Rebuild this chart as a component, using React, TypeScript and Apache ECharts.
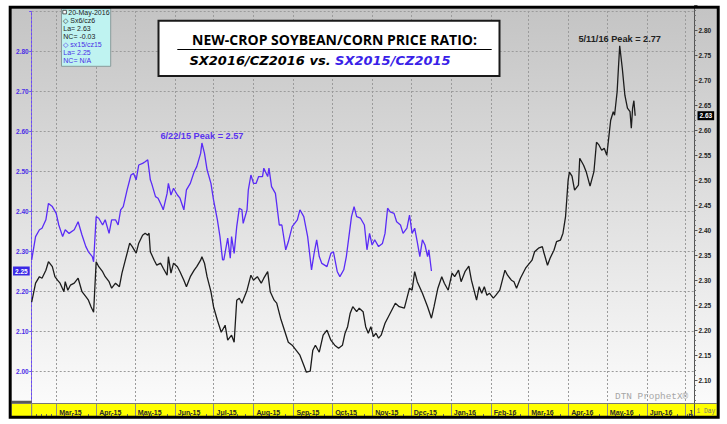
import React, { useEffect, useRef } from "react";
import * as echarts from "echarts";

// ---------- data ----------
const xStart = "2015-02-10";
const xEnd = "2016-07-08";

const monthTicks = [
  "2015-03-01", "2015-04-01", "2015-05-01", "2015-06-01", "2015-07-01", "2015-08-01",
  "2015-09-01", "2015-10-01", "2015-11-01", "2015-12-01", "2016-01-01", "2016-02-01",
  "2016-03-01", "2016-04-01", "2016-05-01", "2016-06-01", "2016-07-01",
];
const monthLabels = [
  "Mar-15", "Apr-15", "May-15", "Jun-15", "Jul-15", "Aug-15", "Sep-15", "Oct-15",
  "Nov-15", "Dec-15", "Jan-16", "Feb-16", "Mar-16", "Apr-16", "May-16", "Jun-16", "J",
];

// SX2016/CZ2016 ratio (black line, right axis)
const blackDates = [
  "2015-02-10", "2015-02-13", "2015-02-16", "2015-02-18", "2015-02-21", "2015-02-23", "2015-02-26", "2015-02-28",
  "2015-03-02", "2015-03-04", "2015-03-07", "2015-03-08", "2015-03-10", "2015-03-12", "2015-03-15", "2015-03-18",
  "2015-03-21", "2015-03-24", "2015-03-26", "2015-03-28", "2015-03-30", "2015-04-01", "2015-04-03", "2015-04-06",
  "2015-04-08", "2015-04-11", "2015-04-13", "2015-04-16", "2015-04-19", "2015-04-21", "2015-04-24", "2015-04-27",
  "2015-04-29", "2015-05-02", "2015-05-04", "2015-05-07", "2015-05-09", "2015-05-11", "2015-05-12", "2015-05-13",
  "2015-05-16", "2015-05-18", "2015-05-21", "2015-05-23", "2015-05-26", "2015-05-27", "2015-05-29", "2015-05-31",
  "2015-06-03", "2015-06-05", "2015-06-08", "2015-06-10", "2015-06-13", "2015-06-16", "2015-06-18", "2015-06-21",
  "2015-06-22", "2015-06-24", "2015-06-26", "2015-06-29", "2015-07-01", "2015-07-04", "2015-07-07", "2015-07-10",
  "2015-07-12", "2015-07-15", "2015-07-17", "2015-07-19", "2015-07-21", "2015-07-23", "2015-07-27", "2015-07-30",
  "2015-08-01", "2015-08-04", "2015-08-07", "2015-08-09", "2015-08-12", "2015-08-14", "2015-08-17", "2015-08-19",
  "2015-08-22", "2015-08-25", "2015-08-28", "2015-08-31", "2015-09-03", "2015-09-06", "2015-09-09", "2015-09-11",
  "2015-09-14", "2015-09-16", "2015-09-18", "2015-09-21", "2015-09-24", "2015-09-27", "2015-09-30", "2015-10-03",
  "2015-10-06", "2015-10-09", "2015-10-11", "2015-10-13", "2015-10-15", "2015-10-17", "2015-10-20", "2015-10-22",
  "2015-10-25", "2015-10-27", "2015-10-29", "2015-10-31", "2015-11-02", "2015-11-04", "2015-11-06", "2015-11-08",
  "2015-11-11", "2015-11-15", "2015-11-19", "2015-11-22", "2015-11-26", "2015-11-30", "2015-12-02", "2015-12-04",
  "2015-12-06", "2015-12-10", "2015-12-14", "2015-12-17", "2015-12-19", "2015-12-22", "2015-12-25", "2015-12-27",
  "2015-12-30", "2016-01-02", "2016-01-04", "2016-01-07", "2016-01-09", "2016-01-12", "2016-01-15", "2016-01-17",
  "2016-01-19", "2016-01-21", "2016-01-23", "2016-01-25", "2016-01-27", "2016-01-29", "2016-01-31", "2016-02-03",
  "2016-02-05", "2016-02-08", "2016-02-10", "2016-02-12", "2016-02-14", "2016-02-17", "2016-02-19", "2016-02-21",
  "2016-02-24", "2016-02-28", "2016-03-04", "2016-03-06", "2016-03-09", "2016-03-12", "2016-03-13", "2016-03-16",
  "2016-03-18", "2016-03-21", "2016-03-23", "2016-03-26", "2016-03-28", "2016-03-30", "2016-04-01", "2016-04-02",
  "2016-04-04", "2016-04-06", "2016-04-09", "2016-04-10", "2016-04-13", "2016-04-15", "2016-04-18", "2016-04-21",
  "2016-04-23", "2016-04-25", "2016-04-27", "2016-04-29", "2016-05-01", "2016-05-03", "2016-05-04", "2016-05-06",
  "2016-05-07", "2016-05-09", "2016-05-10", "2016-05-11", "2016-05-13", "2016-05-15", "2016-05-17", "2016-05-19",
  "2016-05-20", "2016-05-21", "2016-05-22", "2016-05-23",
];
const blackValues = [
  2.257, 2.295, 2.308, 2.305, 2.321, 2.338, 2.328, 2.308,
  2.301, 2.295, 2.278, 2.298, 2.281, 2.291, 2.295, 2.305,
  2.278, 2.268, 2.261, 2.248, 2.237, 2.338, 2.328, 2.318,
  2.308, 2.298, 2.285, 2.295, 2.288, 2.315, 2.345, 2.375,
  2.368, 2.355, 2.375, 2.391, 2.395, 2.391, 2.395, 2.358,
  2.341, 2.331, 2.335, 2.325, 2.311, 2.348, 2.315, 2.335,
  2.328, 2.318, 2.301, 2.288, 2.308, 2.321, 2.328, 2.341,
  2.348, 2.335, 2.308, 2.278, 2.248, 2.221, 2.197, 2.211,
  2.181, 2.191, 2.177, 2.261, 2.265, 2.255, 2.281, 2.311,
  2.301, 2.308, 2.295, 2.305, 2.318, 2.278, 2.261, 2.255,
  2.225, 2.201, 2.177, 2.171, 2.161, 2.151, 2.131, 2.117,
  2.119, 2.161, 2.171, 2.157, 2.191, 2.201, 2.181, 2.171,
  2.165, 2.171, 2.195, 2.208, 2.235, 2.248, 2.238, 2.245,
  2.238, 2.208, 2.195, 2.208, 2.188, 2.195, 2.185, 2.191,
  2.215, 2.235, 2.255, 2.248, 2.245, 2.285, 2.281, 2.318,
  2.298, 2.275, 2.248, 2.225, 2.248, 2.285, 2.308, 2.295,
  2.281, 2.315, 2.308, 2.321, 2.298, 2.318, 2.329, 2.301,
  2.281, 2.261, 2.288, 2.275, 2.288, 2.271, 2.275, 2.265,
  2.271, 2.281, 2.301, 2.321, 2.311, 2.301, 2.298, 2.285,
  2.305, 2.325, 2.341, 2.358, 2.365, 2.368, 2.358, 2.331,
  2.345, 2.361, 2.378, 2.381, 2.395, 2.428, 2.501, 2.517,
  2.509, 2.481, 2.491, 2.545, 2.531, 2.518, 2.489, 2.518,
  2.577, 2.571, 2.561, 2.565, 2.551, 2.598, 2.621, 2.638,
  2.631, 2.678, 2.725, 2.77, 2.725, 2.671, 2.645, 2.638,
  2.605, 2.645, 2.66, 2.63,
];

// SX2015/CZ2015 ratio (blue line, left axis)
const blueDates = [
  "2015-02-10", "2015-02-13", "2015-02-16", "2015-02-18", "2015-02-21", "2015-02-23", "2015-02-26", "2015-03-01",
  "2015-03-03", "2015-03-06", "2015-03-08", "2015-03-11", "2015-03-15", "2015-03-18", "2015-03-21", "2015-03-24",
  "2015-03-26", "2015-03-29", "2015-03-30", "2015-04-01", "2015-04-03", "2015-04-06", "2015-04-08", "2015-04-11",
  "2015-04-13", "2015-04-16", "2015-04-18", "2015-04-20", "2015-04-22", "2015-04-25", "2015-04-28", "2015-04-30",
  "2015-05-02", "2015-05-04", "2015-05-07", "2015-05-09", "2015-05-11", "2015-05-13", "2015-05-14", "2015-05-17",
  "2015-05-19", "2015-05-22", "2015-05-23", "2015-05-26", "2015-05-27", "2015-05-29", "2015-05-31", "2015-06-03",
  "2015-06-05", "2015-06-08", "2015-06-10", "2015-06-13", "2015-06-16", "2015-06-18", "2015-06-21", "2015-06-22",
  "2015-06-24", "2015-06-26", "2015-06-29", "2015-07-01", "2015-07-04", "2015-07-06", "2015-07-08", "2015-07-09",
  "2015-07-12", "2015-07-14", "2015-07-15", "2015-07-17", "2015-07-19", "2015-07-21", "2015-07-23", "2015-07-24",
  "2015-07-27", "2015-07-28", "2015-07-30", "2015-08-01", "2015-08-03", "2015-08-05", "2015-08-08", "2015-08-09",
  "2015-08-12", "2015-08-13", "2015-08-15", "2015-08-18", "2015-08-21", "2015-08-23", "2015-08-26", "2015-08-28",
  "2015-08-31", "2015-09-04", "2015-09-06", "2015-09-09", "2015-09-12", "2015-09-15", "2015-09-17", "2015-09-19",
  "2015-09-21", "2015-09-23", "2015-09-27", "2015-09-30", "2015-10-02", "2015-10-05", "2015-10-07", "2015-10-10",
  "2015-10-12", "2015-10-14", "2015-10-16", "2015-10-18", "2015-10-20", "2015-10-23", "2015-10-26", "2015-10-28",
  "2015-10-30", "2015-11-01", "2015-11-03", "2015-11-06", "2015-11-09", "2015-11-11", "2015-11-13", "2015-11-15",
  "2015-11-18", "2015-11-20", "2015-11-23", "2015-11-25", "2015-11-28", "2015-11-30", "2015-12-02", "2015-12-04",
  "2015-12-06", "2015-12-08", "2015-12-10", "2015-12-12", "2015-12-14", "2015-12-15", "2015-12-17",
];
const blueValues = [
  2.278, 2.336, 2.353, 2.357, 2.378, 2.419, 2.411, 2.394,
  2.365, 2.336, 2.353, 2.344, 2.353, 2.373, 2.34, 2.311,
  2.298, 2.286, 2.273, 2.386, 2.382, 2.365, 2.378, 2.344,
  2.378, 2.378, 2.365, 2.403, 2.411, 2.453, 2.49, 2.494,
  2.478, 2.515, 2.519, 2.523, 2.528, 2.478, 2.469, 2.436,
  2.432, 2.411, 2.403, 2.444, 2.469, 2.44, 2.457, 2.44,
  2.432, 2.403, 2.453, 2.469, 2.498, 2.511, 2.544, 2.57,
  2.544, 2.503, 2.469, 2.428, 2.378, 2.336, 2.278, 2.278,
  2.332, 2.282, 2.336, 2.294, 2.361, 2.407, 2.403, 2.369,
  2.403, 2.453, 2.49, 2.469, 2.469, 2.486, 2.486, 2.507,
  2.486, 2.507, 2.461, 2.444, 2.365, 2.365, 2.303, 2.323,
  2.361, 2.378, 2.403, 2.386, 2.336, 2.253, 2.294, 2.328,
  2.286, 2.269, 2.261, 2.294, 2.298, 2.248, 2.236, 2.253,
  2.286, 2.336, 2.386, 2.411, 2.386, 2.382, 2.365, 2.303,
  2.344, 2.315, 2.328, 2.311, 2.319, 2.344, 2.407, 2.398,
  2.394, 2.373, 2.365, 2.344, 2.357, 2.39, 2.344, 2.357,
  2.323, 2.286, 2.328, 2.315, 2.286, 2.303, 2.25,
];

const legendDate = "20-May-2016";
const blackName = "Sx6/cz6";
const blueName = "sx15/cz15";
const blueChange = "N/A";
const titleLine1 = "NEW-CROP SOYBEAN/CORN PRICE RATIO:";
const titleLine2a = "SX2016/CZ2016 vs. ";
const titleLine2b = "SX2015/CZ2015";
const watermark = "DTN ProphetX\u00AE";
const periodLabel = "1 Day";

// ---------- helpers ----------
const ts = (s: string) => {
  const [y, m, d] = s.split("-").map(Number);
  return new Date(y, m - 1, d).getTime();
};
const peakOf = (dates: string[], vals: number[]) => {
  let k = 0;
  vals.forEach((v, i) => {
    if (v > vals[k]) k = i;
  });
  const [y, m, d] = dates[k].split("-");
  return {
    t: ts(dates[k]),
    v: vals[k],
    label: `${+m}/${+d}/${y.slice(2)} Peak = ${vals[k].toFixed(2)}`,
  };
};

const DAY = 86400000;
const BLUE = "#5a2cf6";
const BLUE_TXT = "#4a2ee6";
const BLACK = "#1c1c1c";
const SANS = "'Liberation Sans', Arial, sans-serif";

function makeOption(withMinor: boolean) {
  const tickTs = monthTicks.map(ts);
  const xMin = ts(xStart);
  const xMax = ts(xEnd);
  const blackData = blackDates.map((d, i) => [ts(d), blackValues[i]]);
  const blueData = blueDates.map((d, i) => [ts(d), blueValues[i]]);
  const blackLast = blackValues[blackValues.length - 1];
  const blackPrev = blackValues[blackValues.length - 2];
  const blueLast = blueValues[blueValues.length - 1];
  const blackPeak = peakOf(blackDates, blackValues);
  const bluePeak = peakOf(blueDates, blueValues);

  const monthFmt = (v: number) => {
    const i = tickTs.findIndex((t) => Math.abs(t - v) < DAY / 2);
    return i >= 0 ? monthLabels[i] : "";
  };

  const gridC = "#9b9b9b";
  const L = 31.7;
  const R = 727 - 694.5;
  const monthly = { minInterval: 28 * DAY, maxInterval: 31 * DAY, splitNumber: 18 };

  const txt = (x: number, y: number, text: string, fill: string, size: number) => ({
    type: "text",
    x,
    y,
    z: 21,
    style: { text, fill, fontSize: size, fontFamily: SANS, align: "left", verticalAlign: "middle" },
  });

  const graphic: any[] = [
    {
      type: "rect",
      z: -10,
      shape: { x: 11.7, y: 8.7, width: 705, height: 395 },
      style: {
        fill: new echarts.graphic.LinearGradient(0, 0, 0, 1, [
          { offset: 0, color: "#c4c4c4" },
          { offset: 1, color: "#fbfbfb" },
        ]),
      },
    },
    { type: "rect", z: 1, shape: { x: 11.7, y: 400.7, width: 20, height: 2.8 }, style: { fill: "#5a5a5a" } },
    { type: "rect", z: 4, shape: { x: 11.7, y: 403.5, width: 705, height: 13 }, style: { fill: "#ffff00" } },
    { type: "line", z: 11, shape: { x1: 11.7, y1: 403.5, x2: 716.7, y2: 403.5 }, style: { stroke: "#777", lineWidth: 1 } },
    { type: "line", z: 11, shape: { x1: 31.7, y1: 403.5, x2: 31.7, y2: 416.5 }, style: { stroke: "#8a8a8a", lineWidth: 1 } },
    { type: "line", z: 11, shape: { x1: 694.5, y1: 403.5, x2: 694.5, y2: 416.5 }, style: { stroke: "#555", lineWidth: 1 } },
    {
      type: "text", z: 11, x: 696.5, y: 411.5,
      style: { text: periodLabel, fill: "#777", fontSize: 6.3, fontFamily: "'Liberation Mono', monospace", align: "left", verticalAlign: "middle" },
    },
    {
      type: "text", z: 1, x: 615, y: 396,
      style: { text: watermark, fill: "#a6a6a6", fontSize: 9.4, fontFamily: "'Liberation Mono', monospace", align: "left", verticalAlign: "middle" },
    },
    { type: "rect", z: 20, shape: { x: 158.5, y: 20.7, width: 341, height: 55.3 }, style: { fill: "#fff", stroke: "#1a1a1a", lineWidth: 2 } },
    {
      type: "text", z: 21, x: 334.5, y: 39,
      style: { text: titleLine1, fill: "#000", fontSize: 14, fontWeight: "bold", fontFamily: "'Open Sans', sans-serif", align: "center", verticalAlign: "middle" },
    },
    { type: "line", z: 21, shape: { x1: 177.3, y1: 49.5, x2: 491.7, y2: 49.5 }, style: { stroke: "#000", lineWidth: 1.2 } },
    {
      type: "text", z: 21, x: 320, y: 60.8,
      style: {
        text: `{a|${titleLine2a}}{b|${titleLine2b}}`,
        align: "center",
        verticalAlign: "middle",
        rich: {
          a: { fill: "#000", fontSize: 13, fontWeight: "bold", fontStyle: "italic", fontFamily: "'DejaVu Sans', sans-serif" },
          b: { fill: "#3a1fe8", fontSize: 13, fontWeight: "bold", fontStyle: "italic", fontFamily: "'DejaVu Sans', sans-serif" },
        },
      },
    },
    { type: "rect", z: 20, shape: { x: 61.5, y: 8.7, width: 49.2, height: 57.6 }, style: { fill: "#bff3f1", stroke: "#8a9a9a", lineWidth: 1 } },
    { type: "rect", z: 21, shape: { x: 62.8, y: 10.3, width: 3.6, height: 3.6 }, style: { fill: "#fff", stroke: "#333", lineWidth: 0.8 } },
    txt(68.3, 12.3, legendDate, "#222", 7),
    txt(63.3, 20.5, `\u25C7 ${blackName}`, "#222", 7),
    txt(63.3, 28.4, `La= ${blackLast.toFixed(2)}`, "#222", 7),
    txt(63.3, 36.3, `NC= ${(blackLast - blackPrev).toFixed(2)}`, "#222", 7),
    txt(63.3, 44.3, `\u25C7 ${blueName}`, BLUE_TXT, 7),
    txt(63.3, 52.5, `La= ${blueLast.toFixed(2)}`, BLUE_TXT, 7),
    txt(63.3, 60.7, `NC= ${blueChange}`, BLUE_TXT, 7),
    { type: "rect", z: 30, shape: { x: 10.2, y: 7.2, width: 708, height: 410 }, style: { fill: "none", stroke: "#000", lineWidth: 3 } },
  ];

  return {
    animation: false,
    grid: [
      { left: L, right: R, top: 11, height: 400 },
      { left: L, right: R, top: 5.7, height: 400 },
      { left: L, right: R, top: 403.5, height: 13 },
    ],
    xAxis: [
      {
        type: "time", gridIndex: 0, min: xMin, max: xMax, ...monthly,
        axisLine: { show: false },
        axisLabel: { show: false },
        axisTick: { show: false },
        splitLine: { show: true, lineStyle: { color: gridC, width: 1, type: [2, 2] } },
      },
      {
        type: "time", gridIndex: 1, min: xMin, max: xMax,
        axisLine: { show: false }, axisLabel: { show: false }, axisTick: { show: false }, splitLine: { show: false },
      },
      {
        type: "time", gridIndex: 2, min: xMin, max: xMax, position: "bottom", z: 10, ...monthly,
        axisLine: { show: false },
        axisTick: { show: true, inside: true, length: 13, lineStyle: { color: "#8a8a8a", width: 1 } },
        minorTick: { show: withMinor, splitNumber: 5, length: 2.5, lineStyle: { color: "#666", width: 1 } },
        axisLabel: {
          inside: true, formatter: monthFmt, align: "left", margin: 0.5, padding: [0, 0, 0, 3],
          color: "#2a2a2a", fontSize: 7, fontWeight: "bold", fontFamily: SANS,
        },
        splitLine: { show: false },
      },
    ],
    yAxis: [
      {
        type: "value", gridIndex: 0, position: "left", min: 1.9, max: 2.9, interval: 0.1,
        axisLine: { show: true, lineStyle: { color: "#6b45ff", width: 1, type: [2, 2] } },
        axisTick: { show: true, length: 2.5, lineStyle: { color: "#6b45ff" } },
        axisLabel: {
          margin: 3, color: BLUE_TXT, fontSize: 6.5, fontWeight: "bold", fontFamily: SANS,
          formatter: (v: number) => (v < 1.95 || v > 2.85 ? "" : v.toFixed(2)),
        },
        splitLine: { show: true, lineStyle: { color: gridC, width: 1, type: [2, 2] } },
      },
      {
        type: "value", gridIndex: 1, position: "right", min: 2.05, max: 2.85, interval: 0.05,
        axisLine: { show: true, lineStyle: { color: "#555", width: 1 } },
        axisTick: { show: true, length: 3, lineStyle: { color: "#555" } },
        minorTick: { show: true, splitNumber: 5, length: 1.5, lineStyle: { color: "#777" } },
        axisLabel: {
          margin: 4, color: "#222", fontSize: 6.5, fontWeight: "bold", fontFamily: SANS,
          formatter: (v: number) => (v < 2.075 || v > 2.825 ? "" : v.toFixed(2)),
        },
        splitLine: { show: false },
      },
      {
        type: "value", gridIndex: 2, min: 0, max: 1,
        axisLine: { show: false }, axisLabel: { show: false }, axisTick: { show: false }, splitLine: { show: false },
      },
    ],
    series: [
      {
        type: "line", name: blueName, xAxisIndex: 0, yAxisIndex: 0, data: blueData,
        symbol: "none", showSymbol: false, z: 3,
        lineStyle: { color: BLUE, width: 1.3 },
        markLine: {
          silent: true, symbol: ["none", "none"],
          lineStyle: { color: "rgba(0,0,0,0)", width: 0 },
          label: {
            show: true, position: "start", distance: 2,
            formatter: (p: any) => Number(p.value).toFixed(2),
            backgroundColor: "#3a28e6", color: "#fff", fontSize: 6.5, fontWeight: "bold", fontFamily: SANS, padding: [1, 2, 1, 2],
          },
          data: [{ yAxis: blueLast }],
        },
        markPoint: {
          symbol: "circle", symbolSize: 1, itemStyle: { color: "rgba(0,0,0,0)" },
          label: { show: true, position: "top", distance: 2, formatter: bluePeak.label, color: "#5a33ee", fontSize: 9.2, fontWeight: "bold", fontFamily: SANS },
          data: [{ coord: [bluePeak.t, bluePeak.v] }],
        },
      },
      {
        type: "line", name: blackName, xAxisIndex: 1, yAxisIndex: 1, data: blackData,
        symbol: "none", showSymbol: false, z: 3,
        lineStyle: { color: BLACK, width: 1.3 },
        markLine: {
          silent: true, symbol: ["none", "none"],
          lineStyle: { color: "rgba(0,0,0,0)", width: 0 },
          label: {
            show: true, position: "end", distance: 3,
            formatter: (p: any) => Number(p.value).toFixed(2),
            backgroundColor: "#000", color: "#fff", fontSize: 6.5, fontWeight: "bold", fontFamily: SANS, padding: [1, 2, 1, 2],
          },
          data: [{ yAxis: blackLast }],
        },
        markPoint: {
          symbol: "circle", symbolSize: 1, itemStyle: { color: "rgba(0,0,0,0)" },
          label: { show: true, position: "top", distance: 2, formatter: blackPeak.label, color: "#222", fontSize: 9.2, fontWeight: "bold", fontFamily: SANS },
          data: [{ coord: [blackPeak.t, blackPeak.v] }],
        },
      },
    ],
    graphic,
  };
}

export default function App() {
  const ref = useRef<HTMLDivElement>(null);

  useEffect(() => {
    if (!ref.current) return;
    let chart: any = null;
    for (const withMinor of [true, false]) {
      try {
        chart = echarts.init(ref.current, undefined, { renderer: "svg" });
        chart.setOption(makeOption(withMinor));
        break;
      } catch (e) {
        try {
          chart && chart.dispose();
        } catch (e2) {}
        chart = null;
      }
    }
    return () => {
      try {
        chart && chart.dispose();
      } catch (e) {}
    };
  }, []);

  return (
    <div style={{ position: "absolute", left: 0, top: 0, width: 727, height: 424 }}>
      <div ref={ref} style={{ width: 727, height: 424, background: "#fff" }} />
    </div>
  );
}
